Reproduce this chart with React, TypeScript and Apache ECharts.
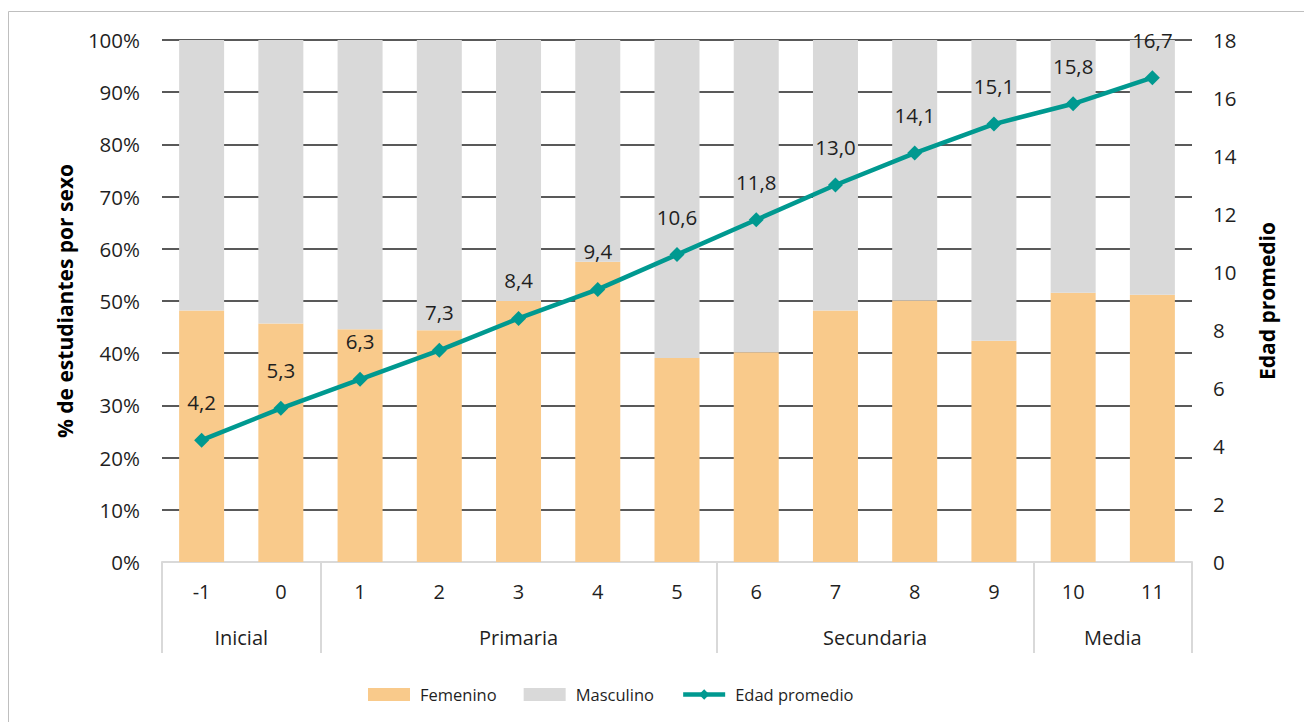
import React, { useEffect, useRef } from "react";
import * as echarts from "echarts";

const categories = ["-1", "0", "1", "2", "3", "4", "5", "6", "7", "8", "9", "10", "11"];
const femenino = [48.2, 45.7, 44.6, 44.4, 50.0, 57.5, 39.1, 40.2, 48.2, 50.1, 42.4, 51.6, 51.2];
const masculino = [51.8, 54.3, 55.4, 55.6, 50.0, 42.5, 60.9, 59.8, 51.8, 49.9, 57.6, 48.4, 48.8];
const edad = [4.2, 5.3, 6.3, 7.3, 8.4, 9.4, 10.6, 11.8, 13.0, 14.1, 15.1, 15.8, 16.7];
const groups = ["Inicial", "Primaria", "Secundaria", "Media"];
const groupBounds = [0, 2, 7, 11, 13];
const groupCenters = [1, 4.5, 9, 12];

const FONT = "Open Sans";
const TXT = "#1f1f1f";
const TEAL = "#009990";

export default function App() {
  const ref = useRef<HTMLDivElement>(null);
  useEffect(() => {
    document.body.style.margin = "0";
    const chart = echarts.init(ref.current!, null, { renderer: "svg" });
    chart.setOption({
      animation: false,
      textStyle: { fontFamily: FONT },
      graphic: [
        {
          type: "rect",
          shape: { x: 8.5, y: 11.5, width: 1300, height: 720 },
          style: { fill: "none", stroke: "#bfbfbf", lineWidth: 1 },
          silent: true,
        },
      ],
      legend: {
        left: 363,
        top: 681,
        itemWidth: 42,
        itemHeight: 13,
        itemGap: 27,
        textStyle: { fontSize: 16.5, color: TXT, fontFamily: FONT, padding: [0, 0, 0, 5] },
        data: [
          { name: "Femenino", icon: "rect" },
          { name: "Masculino", icon: "rect" },
          { name: "Edad promedio", lineStyle: { width: 4.5, color: TEAL }, itemStyle: { color: TEAL } },
        ],
      },
      grid: { left: 162, right: 112, top: 40, bottom: 160, containLabel: false },
      xAxis: [
        {
          type: "category",
          data: categories,
          position: "bottom",
          axisLine: { show: true, lineStyle: { color: "#d9d9d9", width: 2 } },
          axisTick: { show: false },
          axisLabel: { fontSize: 20, color: TXT, margin: 19, fontFamily: FONT },
        },
        {
          type: "value",
          min: 0,
          max: 13,
          position: "bottom",
          axisLine: { show: false },
          splitLine: { show: false },
          axisTick: {
            show: true,
            length: 91,
            customValues: groupBounds,
            lineStyle: { color: "#d9d9d9", width: 2 },
          },
          axisLabel: {
            show: true,
            customValues: groupCenters,
            margin: 65,
            fontSize: 20,
            color: TXT,
            fontFamily: FONT,
            formatter: (v: number) => {
              const i = groupCenters.indexOf(v);
              return i >= 0 ? groups[i] : "";
            },
          },
        },
      ],
      yAxis: [
        {
          type: "value",
          min: 0,
          max: 100,
          interval: 10,
          name: "% de estudiantes por sexo",
          nameLocation: "middle",
          nameGap: 87,
          nameRotate: 90,
          nameTextStyle: { fontSize: 21, fontWeight: "bold", color: "#000", fontFamily: FONT },
          axisLine: { show: false },
          axisTick: { show: false },
          axisLabel: { formatter: "{value}%", fontSize: 20.5, color: TXT, margin: 22, fontFamily: FONT },
          splitLine: { show: true, lineStyle: { color: "#595959", width: 2 } },
        },
        {
          type: "value",
          min: 0,
          max: 18,
          interval: 2,
          name: "Edad promedio",
          nameLocation: "middle",
          nameGap: 64,
          nameRotate: 90,
          nameTextStyle: { fontSize: 21, fontWeight: "bold", color: "#000", fontFamily: FONT },
          axisLine: { show: false },
          axisTick: { show: false },
          axisLabel: { fontSize: 20.5, color: TXT, margin: 21, fontFamily: FONT },
          splitLine: { show: false },
        },
      ],
      series: [
        {
          name: "Femenino",
          type: "bar",
          stack: "sexo",
          data: femenino,
          barWidth: 45,
          itemStyle: { color: "#f9ca8b" },
        },
        {
          name: "Masculino",
          type: "bar",
          stack: "sexo",
          data: masculino,
          barWidth: 45,
          itemStyle: { color: "#d9d9d9" },
        },
        {
          name: "Edad promedio",
          type: "line",
          yAxisIndex: 1,
          data: edad,
          symbol: "diamond",
          symbolSize: 15,
          lineStyle: { color: TEAL, width: 4.5 },
          itemStyle: { color: TEAL },
          label: {
            show: true,
            position: "top",
            distance: 20,
            fontSize: 20.5,
            color: TXT,
            fontFamily: FONT,
            formatter: (p: any) => p.value.toFixed(1).replace(".", ","),
          },
          z: 5,
        },
      ],
    });
    return () => chart.dispose();
  }, []);
  return <div ref={ref} style={{ width: 1304, height: 722 }} />;
}
